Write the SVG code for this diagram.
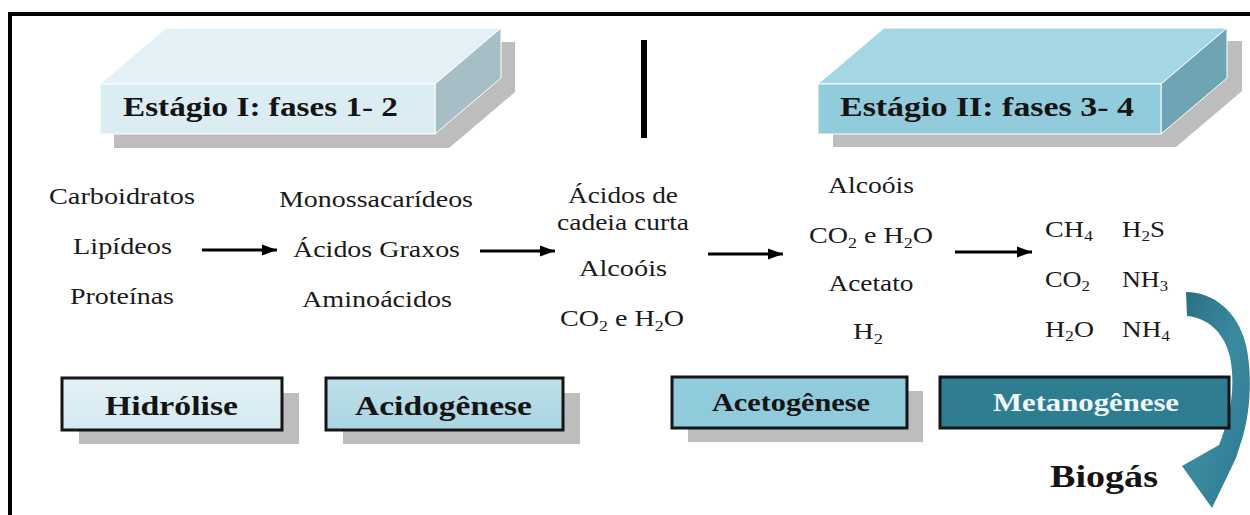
<svg xmlns="http://www.w3.org/2000/svg" width="1250" height="515" viewBox="0 0 1250 515">
<style>
.t{font-family:"Liberation Serif","Times New Roman",serif;font-size:23.5px;fill:#1a1a1a}
.b{font-family:"Liberation Serif","Times New Roman",serif;font-weight:bold;fill:#141414}
.sub{font-size:15px}
.box{stroke:#151515;stroke-width:3}
.shadow{fill:#bdbdbd}
.arr{stroke:#000;stroke-width:3;fill:none;marker-end:url(#ah)}
</style>
<defs>
<marker id="ah" markerUnits="userSpaceOnUse" markerWidth="16" markerHeight="12" refX="15" refY="6" orient="auto">
<path d="M0,0.5 L15,6 L0,11.5 z" fill="#000"/>
</marker>
<linearGradient id="gH" x1="0" y1="0" x2="0" y2="1"><stop offset="0" stop-color="#e4f2f7"/><stop offset="1" stop-color="#d3e9f0"/></linearGradient>
<linearGradient id="gA" x1="0" y1="0" x2="0" y2="1"><stop offset="0" stop-color="#bfe1ea"/><stop offset="1" stop-color="#a9d5e1"/></linearGradient>
<linearGradient id="gC" x1="0" y1="0" x2="1" y2="1"><stop offset="0" stop-color="#2a6f83"/><stop offset="0.5" stop-color="#3a8aa0"/><stop offset="1" stop-color="#2c7890"/></linearGradient>
</defs>

<path d="M10,515 V14 H1250" fill="none" stroke="#000" stroke-width="4"/>

<g id="stage1">
<polygon class="shadow" points="114,98 180,42 515,42 515,92 449,148 114,148"/>
<polygon points="100,84 166,28 501,28 435,84" fill="#e3f1f6" stroke="#fff" stroke-width="1"/>
<polygon points="435,84 501,28 501,78 435,134" fill="#a8bec6" stroke="#fff" stroke-width="1"/>
<rect x="100" y="84" width="335" height="50" fill="#dbedf3" stroke="#fff" stroke-width="1"/>
<text class="b" x="260.5" y="116" font-size="27" text-anchor="middle" textLength="275" lengthAdjust="spacingAndGlyphs">Estágio I: fases 1- 2</text>
</g>

<rect id="divider" x="641" y="40" width="6" height="98" fill="#000"/>

<g id="stage2">
<polygon class="shadow" points="833,97 899,41 1242,41 1242,91 1176,147 833,147"/>
<polygon points="818,84 884,28 1227,28 1161,84" fill="#a5d6e3" stroke="#fff" stroke-width="1"/>
<polygon points="1161,84 1227,28 1227,78 1161,134" fill="#6ea4b4" stroke="#fff" stroke-width="1"/>
<rect x="818" y="84" width="343" height="50" fill="#92cbdb" stroke="#fff" stroke-width="1"/>
<text class="b" x="987" y="116" font-size="27" text-anchor="middle" textLength="294" lengthAdjust="spacingAndGlyphs">Estágio II: fases 3- 4</text>
</g>

<g id="col1">
<text class="t" x="122" y="204" text-anchor="middle" textLength="146" lengthAdjust="spacingAndGlyphs">Carboidratos</text>
<text class="t" x="122.5" y="254" text-anchor="middle" textLength="99" lengthAdjust="spacingAndGlyphs">Lipídeos</text>
<text class="t" x="122" y="304" text-anchor="middle" textLength="104" lengthAdjust="spacingAndGlyphs">Proteínas</text>
</g>

<g id="col2">
<text class="t" x="376" y="207" text-anchor="middle" textLength="194" lengthAdjust="spacingAndGlyphs">Monossacarídeos</text>
<text class="t" x="376.5" y="257" text-anchor="middle" textLength="167" lengthAdjust="spacingAndGlyphs">Ácidos Graxos</text>
<text class="t" x="377" y="307" text-anchor="middle" textLength="150" lengthAdjust="spacingAndGlyphs">Aminoácidos</text>
</g>

<g id="col3">
<text class="t" x="623" y="203" text-anchor="middle" textLength="110" lengthAdjust="spacingAndGlyphs">Ácidos de</text>
<text class="t" x="623" y="230" text-anchor="middle" textLength="132" lengthAdjust="spacingAndGlyphs">cadeia curta</text>
<text class="t" x="623" y="276" text-anchor="middle" textLength="88" lengthAdjust="spacingAndGlyphs">Alcoóis</text>
<text class="t" x="622" y="326" text-anchor="middle" textLength="124" lengthAdjust="spacingAndGlyphs">CO<tspan class="sub" dy="5">2</tspan><tspan dy="-5"> e H</tspan><tspan class="sub" dy="5">2</tspan><tspan dy="-5">O</tspan></text>
</g>

<g id="col4">
<text class="t" x="871" y="193" text-anchor="middle" textLength="86" lengthAdjust="spacingAndGlyphs">Alcoóis</text>
<text class="t" x="871" y="243" text-anchor="middle" textLength="124" lengthAdjust="spacingAndGlyphs">CO<tspan class="sub" dy="5">2</tspan><tspan dy="-5"> e H</tspan><tspan class="sub" dy="5">2</tspan><tspan dy="-5">O</tspan></text>
<text class="t" x="871" y="291" text-anchor="middle" textLength="85" lengthAdjust="spacingAndGlyphs">Acetato</text>
<text class="t" x="868" y="339" text-anchor="middle" textLength="30" lengthAdjust="spacingAndGlyphs">H<tspan class="sub" dy="5">2</tspan></text>
</g>

<g id="col5">
<text class="t" x="1045" y="237" textLength="48" lengthAdjust="spacingAndGlyphs">CH<tspan class="sub" dy="4">4</tspan></text>
<text class="t" x="1122" y="237" textLength="43" lengthAdjust="spacingAndGlyphs">H<tspan class="sub" dy="4">2</tspan><tspan dy="-4">S</tspan></text>
<text class="t" x="1045" y="287" textLength="45" lengthAdjust="spacingAndGlyphs">CO<tspan class="sub" dy="4">2</tspan></text>
<text class="t" x="1122" y="287" textLength="46" lengthAdjust="spacingAndGlyphs">NH<tspan class="sub" dy="4">3</tspan></text>
<text class="t" x="1045" y="337" textLength="49" lengthAdjust="spacingAndGlyphs">H<tspan class="sub" dy="4">2</tspan><tspan dy="-4">O</tspan></text>
<text class="t" x="1122" y="337" textLength="48" lengthAdjust="spacingAndGlyphs">NH<tspan class="sub" dy="4">4</tspan></text>
</g>

<g id="connectors">
<line class="arr" x1="202" y1="250" x2="277" y2="250"/>
<line class="arr" x1="480" y1="251" x2="555" y2="251"/>
<line class="arr" x1="708" y1="254" x2="783" y2="254"/>
<line class="arr" x1="955" y1="252" x2="1032" y2="252"/>
<path id="biogas-arrow" d="M1186,292 C1214,292 1238,312 1246,345 C1252,372 1251,408 1243,436 L1236,458 L1212,508 L1182,466 L1219,445 C1230,418 1236,387 1230,357 C1225,335 1210,318 1187,316 Z" fill="url(#gC)"/>
</g>

<g id="hidrolise">
<rect class="shadow" x="79" y="393" width="220" height="51"/>
<rect class="box" x="62" y="378" width="220" height="52" fill="url(#gH)"/>
<text class="b" x="171.5" y="415" font-size="27" text-anchor="middle" textLength="133" lengthAdjust="spacingAndGlyphs">Hidrólise</text>
</g>

<g id="acidogenese">
<rect class="shadow" x="343" y="393" width="237" height="51"/>
<rect class="box" x="326" y="378" width="237" height="52" fill="url(#gA)"/>
<text class="b" x="443.5" y="415" font-size="27" text-anchor="middle" textLength="177" lengthAdjust="spacingAndGlyphs">Acidogênese</text>
</g>

<g id="acetogenese">
<rect class="shadow" x="688" y="391" width="235" height="51"/>
<rect class="box" x="672" y="377" width="235" height="51" fill="#8fcbdb"/>
<text class="b" x="791" y="411" font-size="26" text-anchor="middle" textLength="158" lengthAdjust="spacingAndGlyphs">Acetogênese</text>
</g>

<g id="metanogenese">
<rect class="box" x="940" y="377" width="289" height="51" fill="#2e7d91"/>
<text class="b" x="1086" y="411" font-size="26" text-anchor="middle" textLength="186" lengthAdjust="spacingAndGlyphs" style="fill:#eef7fa">Metanogênese</text>
</g>

<g id="biogas">
<text class="b" x="1104" y="487" font-size="32" text-anchor="middle" textLength="108" lengthAdjust="spacingAndGlyphs">Biogás</text>
</g>
</svg>
